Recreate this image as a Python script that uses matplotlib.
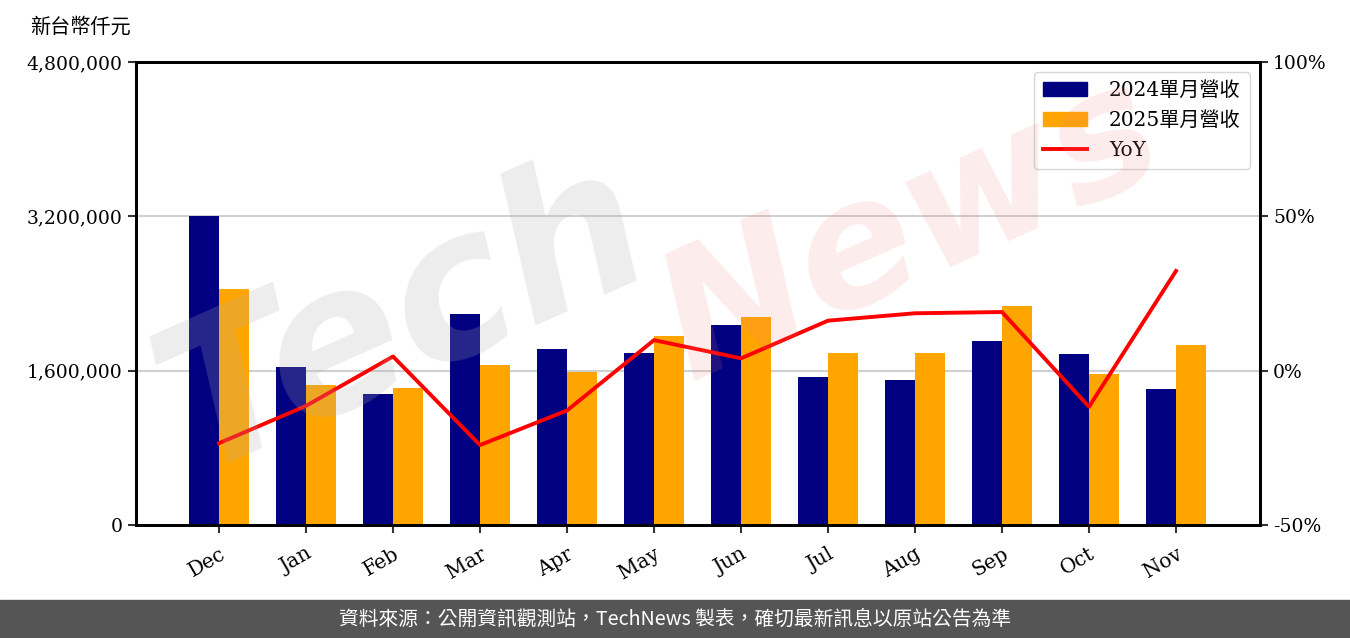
import matplotlib
matplotlib.use("Agg")
import matplotlib.pyplot as plt
import numpy as np
from matplotlib.patches import Patch
from matplotlib.lines import Line2D
from matplotlib.ticker import FuncFormatter

plt.rcParams['font.family'] = ['DejaVu Serif', 'Noto Sans CJK TC', 'DejaVu Sans']

months = ["Dec", "Jan", "Feb", "Mar", "Apr", "May", "Jun", "Jul", "Aug", "Sep", "Oct", "Nov"]
rev_2024 = [3200000, 1638000, 1358000, 2187000, 1821000, 1783000, 2073000, 1534000, 1503000, 1908000, 1773000, 1410000]
rev_2025 = [2447000, 1451000, 1420000, 1659000, 1586000, 1959000, 2156000, 1783000, 1783000, 2270000, 1565000, 1866000]
yoy = [-23.5, -11.4, 4.6, -24.1, -12.9, 9.9, 4.0, 16.2, 18.6, 19.0, -11.7, 32.3]

left_ticks = [0, 1600000, 3200000, 4800000]
right_ticks = [-50, 0, 50, 100]

fig = plt.figure(figsize=(13.5, 6.38), dpi=100)
ax = fig.add_axes([0.1007, 0.1771, 0.8326, 0.7257])

x = np.arange(len(months))
w = 0.35
ax.bar(x - w / 2, rev_2024, w, color="#000080", zorder=2)
ax.bar(x + w / 2, rev_2025, w, color="#FFA500", zorder=2)

ax.set_ylim(0, 4800000)
ax.set_yticks(left_ticks)
ax.yaxis.set_major_formatter(FuncFormatter(lambda v, p: f"{int(v):,}"))
ax.grid(axis='y', color="#d0d0d0", linewidth=1.5, zorder=0)
ax.set_axisbelow(True)
ax.set_xlim(-0.955, 11.965)
ax.set_xticks(x)
ax.set_xticklabels(months, rotation=30, ha='right', rotation_mode='anchor')
ax.tick_params(axis='both', labelsize=13.5, width=1.5, length=6, color="#333333")
ax.tick_params(axis='x', pad=8, labelsize=14.5)

ax2 = ax.twinx()
ax2.plot(x, yoy, color="#FF0000", linewidth=2.8, zorder=3)
ax2.set_ylim(-50, 100)
ax2.set_yticks(right_ticks)
ax2.yaxis.set_major_formatter(FuncFormatter(lambda v, p: f"{int(v)}%"))
ax2.tick_params(axis='y', labelsize=13.5, width=1.5, length=6, color="#333333")

for a in (ax, ax2):
    for s in a.spines.values():
        s.set_linewidth(2)
        s.set_color("black")

handles = [Patch(color="#000080"), Patch(color="#FFA500"),
           Line2D([0], [0], color="#FF0000", linewidth=2.8)]
labels = ["2024單月營收", "2025單月營收", "YoY"]
ax2.legend(handles, labels, loc='upper right', fontsize=14.5, framealpha=0.8,
           edgecolor="#cccccc", fancybox=True, handlelength=2.2, handletextpad=1.1,
           borderpad=0.45, labelspacing=0.55)

fig.text(0.022, 0.958, "新台幣仟元", fontsize=14.5, family=['Noto Sans CJK TC'], va='center')

# watermark
fig.text(0.30, 0.50, "Tech", fontsize=145, color="#b0b0b0", alpha=0.22, rotation=24,
         ha='center', va='center', family=['DejaVu Sans'], style='italic', fontweight='bold', zorder=10)
fig.text(0.675, 0.64, "News", fontsize=125, color="#f08080", alpha=0.15, rotation=24,
         ha='center', va='center', family=['DejaVu Sans'], style='italic', fontweight='bold', zorder=10)

# footer
fig.patches.append(plt.Rectangle((0, 0), 1, 38 / 638, transform=fig.transFigure,
                                 color="#555555", zorder=0))
fig.text(0.5, 19 / 638, "資料來源：公開資訊觀測站，TechNews 製表，確切最新訊息以原站公告為準",
         color="white", fontsize=14.2, ha='center', va='center', family=['Noto Sans CJK TC'])

fig.savefig("out.png", dpi=100)
